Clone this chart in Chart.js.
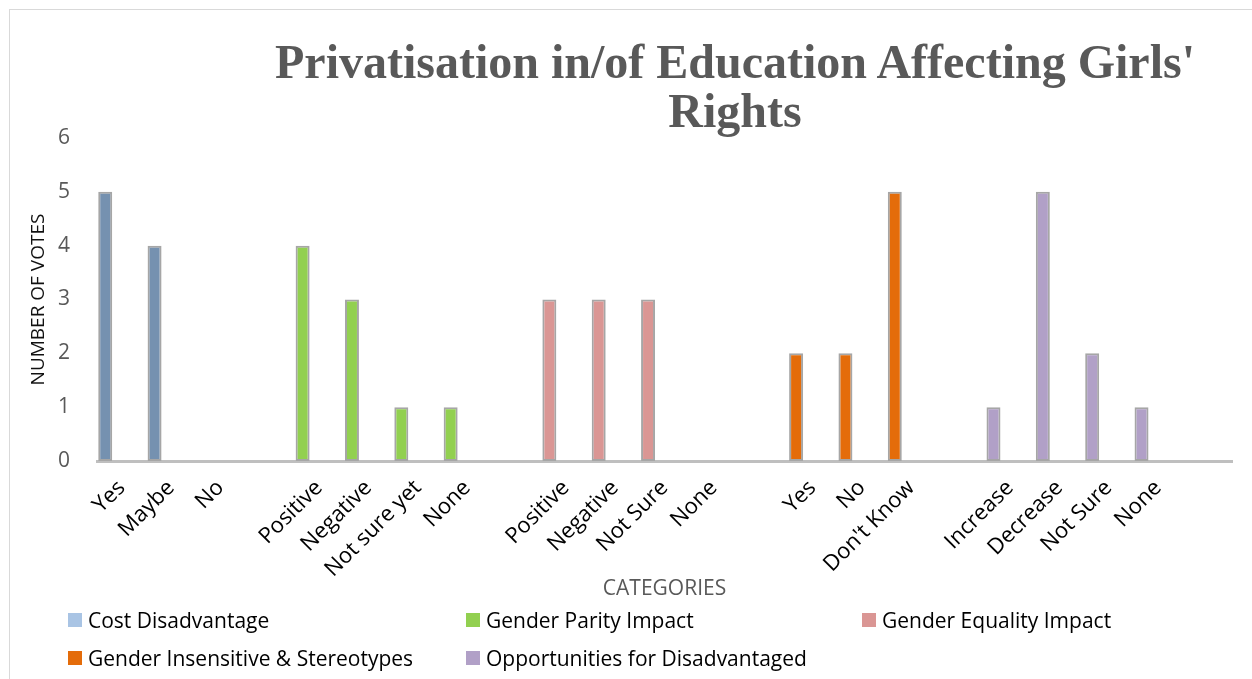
<!DOCTYPE html>
<html>
<head>
<meta charset="utf-8">
<title>Privatisation in/of Education Affecting Girls' Rights</title>
<script src="https://cdn.jsdelivr.net/npm/chart.js@4.4.1/dist/chart.umd.min.js"></script>
<style>
    body { margin: 0; background: #fff; }
    #wrap { position: relative; width: 1252px; height: 679px; overflow: hidden; }
    #frame { position: absolute; left: 9px; top: 9px; width: 1300px; height: 720px; border: 1px solid #d9d9d9; }
    #chart { position: absolute; left: 0; top: 0; }
    #title {
        position: absolute; left: 235px; width: 1000px; top: 37px;
        text-align: center; color: #595959;
        font: bold 48px "Liberation Serif", serif; line-height: 49px;
    }
    .legend-item {
        position: absolute; display: flex; align-items: center;
        font: 21px "Open Sans", sans-serif; color: #000; line-height: 24px; white-space: nowrap;
    }
    .legend-item .swatch { width: 14px; height: 14px; margin-right: 6px; }
</style>
</head>
<body>
<div id="wrap">
    <div id="frame"></div>
    <canvas id="chart" width="1252" height="679"></canvas>
    <div id="title">Privatisation in/of Education Affecting Girls'<br>Rights</div>
    <div id="legend"></div>
</div>
<script>
// categories along the x axis (blank entries are the gaps between question groups)
const categories = ['Yes', 'Maybe', 'No', '',
    'Positive', 'Negative', 'Not sure yet', 'None', '',
    'Positive', 'Negative', 'Not Sure', 'None', '',
    'Yes', 'No', "Don't Know", '',
    'Increase', 'Decrease', 'Not Sure', 'None', ''];

const seriesNames = ['Cost Disadvantage', 'Gender Parity Impact', 'Gender Equality Impact',
    'Gender Insensitive & Stereotypes', 'Opportunities for Disadvantaged'];

// votes per category, one array per series
const costDisadvantage   = [5, 4, 0, null, null, null, null, null, null, null, null, null, null, null, null, null, null, null, null, null, null, null, null];
const genderParity       = [null, null, null, null, 4, 3, 1, 1, null, null, null, null, null, null, null, null, null, null, null, null, null, null, null];
const genderEquality     = [null, null, null, null, null, null, null, null, null, 3, 3, 3, 0, null, null, null, null, null, null, null, null, null, null];
const genderInsensitive  = [null, null, null, null, null, null, null, null, null, null, null, null, null, null, 2, 2, 5, null, null, null, null, null, null];
const opportunities      = [null, null, null, null, null, null, null, null, null, null, null, null, null, null, null, null, null, null, 1, 5, 2, 1, null];

const yTicks = [0, 1, 2, 3, 4, 5, 6];

const barColors    = ['#7591b0', '#92d050', '#da9694', '#e46c0a', '#b1a0c7'];
const legendColors = ['#a9c4e4', '#92d050', '#da9694', '#e46c0a', '#b1a0c7'];

const seriesData = [costDisadvantage, genderParity, genderEquality, genderInsensitive, opportunities];

const datasets = seriesData.map((data, i) => ({
    label: seriesNames[i],
    data: data,
    stack: 'main',
    backgroundColor: barColors[i],
    borderColor: '#a6a6a6',
    borderWidth: 2,
    borderSkipped: false,
    categoryPercentage: 1.0,
    barPercentage: 0.85
}));

// two empty stacks so the bars sit in the left part of each category, like the Excel original
['spacerA', 'spacerB'].forEach(name => {
    datasets.push({
        label: name,
        data: [],
        stack: name,
        categoryPercentage: 1.0,
        barPercentage: 0.85
    });
});

const ctx = document.getElementById('chart').getContext('2d');
new Chart(ctx, {
    type: 'bar',
    data: { labels: categories, datasets: datasets },
    options: {
        responsive: false,
        animation: false,
        devicePixelRatio: 1,
        layout: { padding: { left: 12, right: 20, top: 138, bottom: 76 } },
        plugins: {
            legend: { display: false },
            title: { display: false },
            tooltip: { enabled: false }
        },
        scales: {
            x: {
                stacked: true,
                grid: { display: false, drawTicks: false },
                border: { display: true, color: '#bfbfbf', width: 3 },
                ticks: {
                    autoSkip: false,
                    maxRotation: 45,
                    minRotation: 45,
                    padding: 14,
                    color: '#000',
                    font: { family: 'Open Sans', size: 22 }
                },
                title: {
                    display: true,
                    text: 'CATEGORIES',
                    color: '#595959',
                    font: { family: 'Open Sans', size: 21 },
                    padding: { top: 0, bottom: 1 }
                },
                afterFit: scale => { scale.height = 142; }
            },
            y: {
                stacked: true,
                min: 0,
                max: 6,
                grid: { display: false, drawTicks: false },
                border: { display: false },
                afterBuildTicks: scale => { scale.ticks = yTicks.map(v => ({ value: v })); },
                ticks: {
                    padding: 27,
                    color: '#595959',
                    font: { family: 'Open Sans', size: 21 }
                },
                title: {
                    display: true,
                    text: 'NUMBER OF VOTES',
                    color: '#111',
                    font: { family: 'Open Sans', size: 19 },
                    padding: { top: 15, bottom: 0 }
                },
                afterFit: scale => { scale.width = 85; }
            }
        }
    }
});

// legend laid out in the same three columns as the original
const legendPos = [[68, 608], [466, 608], [862, 608], [68, 646], [466, 646]];
const legendBox = document.getElementById('legend');
seriesNames.forEach((name, i) => {
    const item = document.createElement('div');
    item.className = 'legend-item';
    item.style.left = legendPos[i][0] + 'px';
    item.style.top = legendPos[i][1] + 'px';
    item.innerHTML = `<span class="swatch" style="background:${legendColors[i]}"></span><span></span>`;
    item.lastChild.textContent = name;
    legendBox.appendChild(item);
});
</script>
</body>
</html>
